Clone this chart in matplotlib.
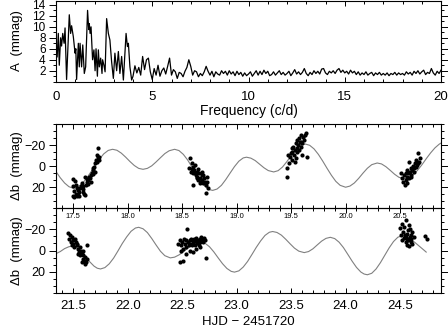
"""
Periodogram plus two-part light curve (Delta b) with multi-sine fit.
"""

import numpy as np
import matplotlib
matplotlib.use("Agg")
import matplotlib.pyplot as plt
from matplotlib.ticker import MultipleLocator, FormatStrFormatter

plt.rcParams["font.family"] = ["Liberation Sans", "DejaVu Sans"]

# -----------------------------------------------------------------------------
# Amplitude spectrum (c/d, mmag) -- low-frequency vertices
# -----------------------------------------------------------------------------
freq_lo = [0.00, 0.06, 0.12, 0.17, 0.24, 0.29, 0.35, 0.42, 0.47, 0.55,
           0.69, 0.76, 0.81, 0.90, 0.99, 1.03, 1.07, 1.16, 1.21, 1.25,
           1.33, 1.39, 1.47, 1.54, 1.64, 1.70, 1.73, 1.77, 1.82, 1.90,
           1.97, 2.03, 2.08, 2.15, 2.20, 2.25, 2.32, 2.39, 2.42, 2.49,
           2.55, 2.63, 2.72, 2.80, 2.89, 2.98, 3.06, 3.15, 3.24, 3.32,
           3.41, 3.50, 3.64, 3.71, 3.76, 3.84, 3.93]
amp_lo = [5.8, 4.5, 8.8, 3.0, 8.0, 6.5, 8.8, 7.0, 9.8, 0.4,
          12.2, 8.8, 10.2, 8.2, 5.2, 6.0, 0.4, 7.0, 2.7, 7.0,
          2.7, 6.7, 1.5, 2.7, 13.0, 9.5, 10.6, 8.8, 10.0, 4.0,
          5.8, 2.0, 6.0, 1.0, 5.8, 2.7, 4.3, 1.5, 4.0, 3.0,
          1.8, 11.5, 8.8, 7.6, 3.6, 0.6, 5.2, 2.0, 5.5, 1.5,
          4.6, 0.3, 8.8, 6.4, 7.0, 2.7, 0.3]

# 4.0 ... 20.0 c/d in steps of 0.1
freq_hi = np.round(np.arange(40, 201) / 10.0, 1)
amp_hi = [1.0, 2.9, 1.6, 2.6, 1.2, 4.6, 2.2, 4.0, 4.3, 1.8,
          0.4, 2.4, 1.2, 3.0, 1.0, 2.0, 2.5, 1.4, 2.8, 4.3,
          1.2, 2.2, 1.8, 0.6, 1.7, 1.5, 0.9, 1.9, 2.6, 4.0,
          2.8, 1.2, 2.0, 1.8, 0.9, 1.5, 1.1, 1.8, 2.8, 1.9,
          1.2, 1.9, 0.9, 1.8, 1.4, 1.2, 2.0, 1.5, 1.9, 1.2,
          2.0, 1.4, 1.8, 1.1, 1.9, 1.3, 1.7, 1.0, 1.6, 1.1,
          1.4, 1.8, 1.0, 1.5, 2.0, 1.2, 1.9, 1.3, 2.1, 1.5,
          1.9, 1.1, 1.3, 1.8, 1.2, 1.6, 2.0, 1.3, 1.7, 1.2,
          1.5, 1.9, 1.1, 1.6, 2.2, 1.4, 1.8, 1.3, 1.7, 2.4,
          1.5, 1.1, 1.7, 1.3, 2.0, 1.5, 1.9, 1.4, 2.3, 2.4,
          1.6, 1.3, 1.9, 1.6, 2.0, 1.5, 2.1, 2.4, 1.7, 2.1,
          1.6, 1.9, 1.4, 2.1, 1.6, 1.9, 1.3, 1.8, 1.2, 1.6,
          1.3, 1.8, 1.2, 1.5, 1.7, 1.1, 1.6, 1.3, 1.7, 1.2,
          1.5, 1.2, 1.6, 1.1, 1.5, 1.3, 1.7, 1.2, 1.6, 1.3,
          1.5, 1.2, 1.8, 1.4, 1.7, 1.2, 1.9, 1.5, 2.0, 1.4,
          1.8, 2.1, 1.3, 1.7, 1.5, 2.4, 1.6, 1.2, 1.9, 1.5,
          2.1]

# -----------------------------------------------------------------------------
# Light curve, first part (HJD - 2451720 = 17.3 ... 20.9)
# -----------------------------------------------------------------------------
hjd_a = [17.494, 17.516, 17.500, 17.522, 17.531, 17.540, 17.509, 17.494, 17.509, 17.525,
         17.546, 17.555, 17.561, 17.571, 17.577, 17.586, 17.592, 17.601, 17.607, 17.616,
         17.622, 17.622, 17.632, 17.638, 17.647, 17.653, 17.662, 17.662, 17.668, 17.677,
         17.683, 17.683, 17.693, 17.699, 17.699, 17.708, 17.714, 17.714, 17.723, 17.729,
         17.732, 17.739, 17.607, 17.592, 17.555, 17.531,
         18.571, 18.586, 18.565, 18.577, 18.595, 18.601, 18.607, 18.617, 18.626, 18.632,
         18.638, 18.647, 18.656, 18.662, 18.668, 18.678, 18.684, 18.693, 18.699, 18.708,
         18.717, 18.723, 18.729, 18.739, 18.717, 18.601, 18.647, 18.678, 18.632, 18.662,
         18.693, 18.586, 18.617,
         19.465, 19.465, 19.480, 19.474, 19.489, 19.495, 19.504, 19.511, 19.520, 19.526,
         19.532, 19.541, 19.551, 19.557, 19.563, 19.572, 19.581, 19.587, 19.593, 19.603,
         19.612, 19.618, 19.624, 19.633, 19.642, 19.603, 19.572, 19.541, 19.511, 19.557,
         19.587, 19.532,
         20.512, 20.521, 20.530, 20.537, 20.546, 20.552, 20.561, 20.567, 20.573, 20.582,
         20.582, 20.592, 20.598, 20.604, 20.613, 20.619, 20.628, 20.634, 20.643, 20.653,
         20.659, 20.665, 20.674, 20.680, 20.668, 20.628, 20.598, 20.552, 20.567, 20.643]
db_a = [12.1, 14.0, 18.7, 17.7, 20.9, 23.1, 24.0, 28.1, 29.7, 26.6,
        27.2, 25.0, 20.9, 19.3, 16.2, 21.5, 18.4, 26.6, 27.2, 17.7,
        14.6, 12.4, 17.1, 13.0, 9.9, 11.4, 8.3, 14.6, 6.7, 3.6,
        7.7, 2.0, 0.4, -2.7, 5.2, -5.9, -4.3, -10.6, -9.0, -16.9,
        -5.9, -9.0, 10.5, 24.7, 28.8, 28.1,
        -7.4, -2.7, 2.0, 5.2, 0.5, 6.7, 3.6, -1.1, 8.3, 5.2,
        9.9, 13.0, 6.7, 11.5, 14.6, 8.3, 13.0, 16.2, 11.5, 14.6,
        17.7, 9.9, 14.6, 20.9, 25.6, 17.7, 3.0, 5.2, 11.5, 16.2,
        8.3, 3.0, 6.1,
        9.9, 2.0, -2.7, -10.6, -9.0, -12.1, -13.7, -5.8, -18.4, -10.6,
        -15.3, -21.6, -16.8, -13.7, -20.0, -26.3, -23.2, -18.4, -23.2, -21.6,
        -27.9, -24.7, -29.4, -31.6, -9.0, -10.6, -15.3, -7.4, -16.8, -24.7,
        -29.4, -4.3,
        6.7, 11.5, 14.6, 8.3, 17.7, 13.0, 9.9, 16.2, 6.7, 11.5,
        -4.3, 5.2, 2.0, 8.3, 3.6, -0.2, 2.0, -2.7, 0.5, -4.3,
        -1.1, -12.1, -4.3, -7.4, -2.7, 5.2, 9.9, 6.7, 3.6, -5.8]

fit_t_a = [17.34, 17.38, 17.42, 17.46, 17.50, 17.54, 17.58, 17.62, 17.66, 17.70,
           17.74, 17.78, 17.82, 17.86, 17.90, 17.94, 17.98, 18.02, 18.06, 18.10,
           18.14, 18.18, 18.22, 18.26, 18.30, 18.34, 18.38, 18.43, 18.47, 18.51,
           18.55, 18.59, 18.63, 18.67, 18.71, 18.75, 18.78, 18.82, 18.86, 18.90,
           18.94, 18.98, 19.02, 19.06, 19.09, 19.13, 19.17, 19.21, 19.25, 19.29,
           19.34, 19.38, 19.42, 19.46, 19.50, 19.54, 19.58, 19.63, 19.67, 19.71,
           19.75, 19.79, 19.83, 19.87, 19.91, 19.95, 20.00, 20.04, 20.08, 20.12,
           20.16, 20.20, 20.24, 20.29, 20.33, 20.37, 20.41, 20.45, 20.49, 20.54,
           20.58, 20.62, 20.66, 20.70, 20.74, 20.78, 20.82, 20.86, 20.88]
fit_db_a = [5.0, 11.0, 16.0, 19.5, 21.0, 19.9, 16.7, 11.8, 5.7, -0.7,
            -6.8, -11.7, -14.9, -16.0, -15.1, -12.4, -8.6, -4.4, -0.6, 2.1,
            3.0, 2.1, -0.3, -4.0, -8.0, -11.9, -14.6, -16.0, -14.8, -11.2,
            -5.8, 0.9, 7.8, 14.0, 19.3, 22.3, 23.0, 21.7, 18.2, 12.7,
            6.5, 0.4, -4.7, -7.8, -8.5, -7.6, -5.3, -1.9, 1.5, 4.2,
            5.5, 4.3, 0.9, -4.2, -9.9, -15.3, -19.1, -21.0, -19.8, -16.4,
            -11.2, -4.8, 2.1, 8.7, 14.4, 18.2, 20.0, 18.9, 16.0, 11.6,
            6.6, 2.0, -1.4, -3.0, -2.1, 0.5, 4.0, 7.7, 10.6, 12.0,
            11.1, 8.2, 4.0, -1.2, -7.0, -12.5, -17.3, -20.9, -22.1]

# -----------------------------------------------------------------------------
# Light curve, second part (HJD - 2451720 = 21.3 ... 24.9)
# -----------------------------------------------------------------------------
hjd_b = [21.454, 21.470, 21.463, 21.485, 21.476, 21.500, 21.494, 21.515, 21.524, 21.506,
         21.531, 21.546, 21.537, 21.555, 21.561, 21.570, 21.576, 21.585, 21.592, 21.598,
         21.607, 21.616, 21.607, 21.622, 21.628, 21.561, 21.576, 21.592, 21.546, 21.485,
         22.461, 22.476, 22.491, 22.500, 22.506, 22.512, 22.522, 22.531, 22.537, 22.543,
         22.552, 22.561, 22.567, 22.573, 22.583, 22.592, 22.598, 22.604, 22.613, 22.622,
         22.628, 22.635, 22.644, 22.653, 22.659, 22.665, 22.674, 22.683, 22.689, 22.696,
         22.705, 22.720, 22.476, 22.506, 22.537, 22.567, 22.491, 22.628, 22.659, 22.598,
         24.500, 24.521, 24.537, 24.552, 24.530, 24.543, 24.561, 24.567, 24.573, 24.582,
         24.592, 24.598, 24.604, 24.613, 24.552, 24.561, 24.582, 24.613, 24.507, 24.521,
         24.537, 24.592, 24.628, 24.573, 24.552, 24.604, 24.729, 24.751]
db_b = [-16.9, -14.3, -11.1, -12.7, -7.9, -9.5, -6.4, -11.1, -7.9, -3.2,
        -4.8, -1.6, -6.4, 1.6, 4.7, 0.0, 3.1, 7.9, 4.7, 9.5,
        6.3, 11.1, 12.7, 7.9, -4.8, -3.2, 11.1, 0.9, 3.1, -4.8,
        -6.4, -9.5, -4.8, -7.9, -1.6, -11.1, -6.4, -9.5, -3.2, -20.0,
        -7.9, -4.8, -9.5, -6.4, -11.1, -5.4, -7.9, -10.5, -4.8, -8.6,
        -11.7, -7.0, -9.5, -5.4, -11.1, -7.9, -12.7, -9.5, -7.9, -11.7,
        -9.5, 7.3, 11.1, 9.5, 3.1, 0.0, 0.9, -1.6, -3.2, 1.6,
        -21.3, -25.4, -22.2, -28.6, -17.5, -14.3, -15.9, -11.1, -19.0, -23.8,
        -12.7, -7.9, -14.9, -17.5, -7.9, -4.8, -4.2, -6.4, -14.3, -9.5,
        -11.7, -20.6, -12.7, -9.5, -12.7, -10.5, -13.3, -10.5]

fit_t_b = [21.34, 21.38, 21.42, 21.46, 21.49, 21.53, 21.57, 21.61, 21.65, 21.69,
           21.72, 21.75, 21.79, 21.83, 21.87, 21.91, 21.95, 21.99, 22.03, 22.07,
           22.10, 22.14, 22.18, 22.22, 22.26, 22.30, 22.34, 22.39, 22.43, 22.47,
           22.51, 22.55, 22.59, 22.63, 22.67, 22.71, 22.75, 22.79, 22.83, 22.87,
           22.91, 22.95, 22.98, 23.02, 23.06, 23.10, 23.14, 23.18, 23.22, 23.26,
           23.30, 23.33, 23.37, 23.41, 23.45, 23.49, 23.53, 23.57, 23.62, 23.66,
           23.70, 23.74, 23.78, 23.82, 23.86, 23.90, 23.94, 23.98, 24.02, 24.06,
           24.10, 24.14, 24.17, 24.20, 24.24, 24.28, 24.32, 24.36, 24.40, 24.44,
           24.48, 24.52, 24.56, 24.60, 24.64, 24.68, 24.72, 24.74]
fit_db_b = [3.0, 1.0, -1.8, -3.6, -4.0, -2.7, 0.6, 5.5, 10.6, 14.8,
            16.8, 17.5, 16.2, 12.6, 7.2, 0.4, -6.7, -12.9, -18.2, -21.3,
            -22.0, -20.6, -17.0, -11.4, -5.2, 0.7, 4.9, 7.0, 6.3, 4.2,
            1.2, -2.2, -5.2, -7.3, -8.0, -6.8, -3.6, 1.3, 7.0, 12.5,
            17.0, 19.8, 20.5, 19.3, 15.7, 10.4, 3.8, -3.0, -9.1, -14.3,
            -17.3, -18.0, -17.1, -14.6, -10.7, -6.4, -2.3, 0.6, 2.0, 1.0,
            -1.6, -5.3, -8.9, -11.5, -12.5, -11.3, -7.9, -2.8, 3.6, 10.1,
            16.0, 20.4, 22.3, 23.0, 21.6, 17.5, 11.5, 4.5, -2.5, -8.5,
            -12.6, -14.0, -13.0, -10.5, -7.3, -3.8, -0.3, 1.5]


def style_axis(ax, fs_x=9.0, fs_y=8.5, xpad=6.0):
    ax.tick_params(axis="x", which="both", direction="in", top=True, bottom=True,
                   labelsize=fs_x, pad=xpad, width=0.7)
    ax.tick_params(axis="x", which="major", length=3.5)
    ax.tick_params(axis="x", which="minor", length=2.0)
    ax.tick_params(axis="y", which="both", direction="out", left=True, right=True,
                   labelsize=fs_y, pad=2.5, width=0.7)
    ax.tick_params(axis="y", which="major", length=5)
    ax.tick_params(axis="y", which="minor", length=2.5)
    for s in ax.spines.values():
        s.set_linewidth(0.8)


fig = plt.figure(figsize=(4.48, 3.27), dpi=100)
W, H = 448.0, 327.0
x0, x1 = 56.0, 441.0


def add_axes(top_px, bottom_px):
    return fig.add_axes([x0 / W, 1 - bottom_px / H, (x1 - x0) / W, (bottom_px - top_px) / H])


# --- periodogram --------------------------------------------------------------
ax1 = add_axes(0.5, 81.7)
ax1.plot(list(freq_lo) + list(freq_hi), list(amp_lo) + list(amp_hi), color="k", lw=0.9)
ax1.set_xlim(0, 20)
ax1.set_ylim(0, 14.8)
ax1.xaxis.set_major_locator(MultipleLocator(5))
ax1.xaxis.set_minor_locator(MultipleLocator(1))
ax1.yaxis.set_minor_locator(MultipleLocator(1))
ax1.set_yticks([2, 4, 6, 8, 10, 12, 14])
style_axis(ax1, fs_x=9.5, xpad=6.5)

# --- light curve part 1 -------------------------------------------------------
ax2 = add_axes(124.0, 208.3)
ax2.plot(fit_t_a, fit_db_a, color="0.5", lw=0.8)
ax2.plot(hjd_a, db_a, "o", color="k", ms=3.0, mew=0)
ax2.set_xlim(17.341, 20.876)
ax2.set_ylim(40, -40)
ax2.xaxis.set_major_locator(MultipleLocator(0.5))
ax2.xaxis.set_minor_locator(MultipleLocator(0.1))
ax2.xaxis.set_major_formatter(FormatStrFormatter("%.1f"))
ax2.set_yticks([-20, 0, 20])
ax2.yaxis.set_minor_locator(MultipleLocator(20 / 3))
style_axis(ax2, fs_x=5.5, fs_y=9, xpad=3.5)

# --- light curve part 2 -------------------------------------------------------
ax3 = add_axes(208.3, 292.7)
ax3.patch.set_visible(False)
ax3.plot(fit_t_b, fit_db_b, color="0.5", lw=0.8)
ax3.plot(hjd_b, db_b, "o", color="k", ms=3.0, mew=0)
ax3.set_xlim(21.341, 24.876)
ax3.set_ylim(40, -40)
ax3.xaxis.set_major_locator(MultipleLocator(0.5))
ax3.xaxis.set_minor_locator(MultipleLocator(0.1))
ax3.xaxis.set_major_formatter(FormatStrFormatter("%.1f"))
ax3.set_yticks([-20, 0, 20])
ax3.yaxis.set_minor_locator(MultipleLocator(20 / 3))
style_axis(ax3, fs_x=9.5, fs_y=9, xpad=5.5)

# --- axis labels ----------------------------------------------------------------
fig.text(248.5 / W, 1 - 111 / H, "Frequency (c/d)", ha="center", va="center", fontsize=10)
fig.text(248.5 / W, 1 - 322 / H, "HJD \u2212 2451720", ha="center", va="center", fontsize=9.5)
fig.text(17 / W, 1 - 41 / H, "A  (mmag)", ha="center", va="center", rotation=90, fontsize=9.5)
fig.text(17 / W, 1 - 166 / H, "\u0394b  (mmag)", ha="center", va="center", rotation=90, fontsize=9.5)
fig.text(17 / W, 1 - 250.5 / H, "\u0394b  (mmag)", ha="center", va="center", rotation=90, fontsize=9.5)

fig.savefig("out.png", dpi=100)
